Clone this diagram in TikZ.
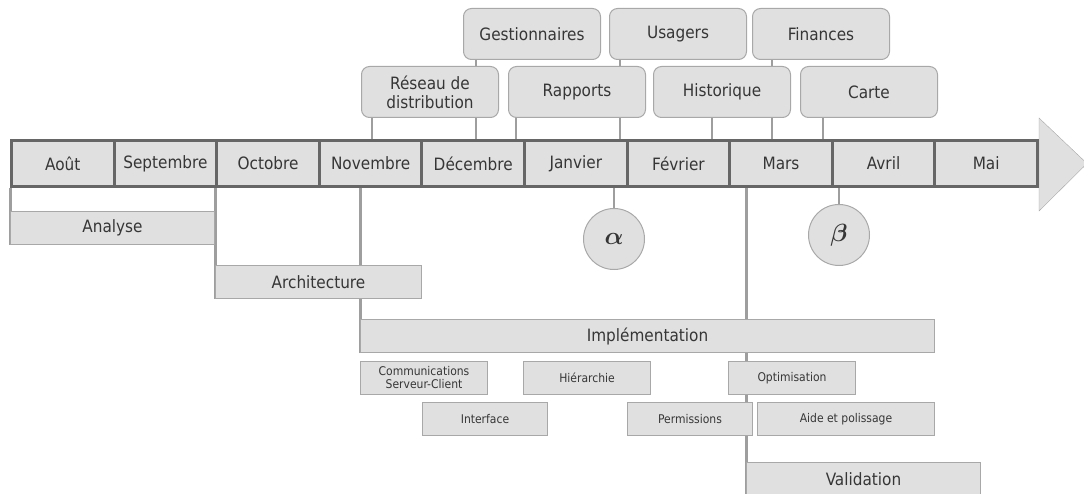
\documentclass[tikz,border=0pt]{standalone}
\usepackage{amsmath}
\usepackage{fontspec}
\setmainfont{DejaVu Sans Condensed}
\usetikzlibrary{backgrounds}
\definecolor{boxfill}{HTML}{E0E0E0}
\definecolor{boxline}{HTML}{A8A8A8}
\definecolor{monthline}{HTML}{666666}
\definecolor{linkline}{HTML}{9E9E9E}
\definecolor{txt}{HTML}{363636}
\begin{document}
\begin{tikzpicture}[x=1pt,y=-1pt,text=txt,
  month/.style={draw=monthline, line width=3pt, fill=boxfill, minimum width=102.6pt,
    minimum height=46pt, inner sep=0pt, anchor=north west, font=\fontsize{17}{19}\selectfont},
  topic/.style={draw=boxline, fill=boxfill, line width=1pt, rounded corners=8pt,
    minimum width=137pt, minimum height=51pt, inner sep=0pt, align=center,
    anchor=north west, font=\fontsize{17}{19}\selectfont},
  phase/.style={draw=boxline, fill=boxfill, line width=1pt, minimum height=33pt,
    inner sep=0pt, anchor=north west, font=\fontsize{17}{19}\selectfont},
  task/.style={phase, align=center, font=\fontsize{12}{13}\selectfont},
  link/.style={draw=linkline, line width=2pt},
  stage/.style={draw=linkline, line width=3pt},
  milestone/.style={circle, draw=boxline, fill=boxfill, line width=1pt,
    minimum size=61pt, inner sep=0pt, font=\fontsize{24}{24}\selectfont}]
\useasboundingbox (0,0) rectangle (1084,494);

% months
\foreach \m [count=\i] in {Août,Septembre,Octobre,Novembre,Décembre,Janvier,Février,Mars,Avril,Mai}
  \node[month] (m\i) at ({10+(\i-1)*102.6},139) {\m};

% topics above the line
\node[topic] (gestion) at (463,8) {Gestionnaires};
\node[topic] (usagers) at (609,8) {Usagers};
\node[topic] (finances) at (752,8) {Finances};
\node[topic] (reseau) at (361,66) {Réseau de\\distribution};
\node[topic] (rapports) at (508,66) {Rapports};
\node[topic] (historique) at (653,66) {Historique};
\node[topic] (carte) at (800,66) {Carte};

% milestones
\node[milestone] (alpha) at (614,239) {$\boldsymbol{\alpha}$};
\node[milestone] (beta) at (839,235) {$\boldsymbol{\beta}$};

% phases
\node[phase, minimum width=204pt] (analyse) at (10,211) {Analyse};
\node[phase, minimum width=206pt] (archi) at (215,265) {Architecture};
\node[phase, minimum width=574pt] (impl) at (360,319) {Implémentation};
\node[phase, minimum width=234pt] (valid) at (746,462) {Validation};

% tasks
\node[task, minimum width=127pt] (comm) at (360,361) {Communications\\Serveur-Client};
\node[task, minimum width=125pt] (interface) at (422,402) {Interface};
\node[task, minimum width=127pt] (hier) at (523,361) {Hiérarchie};
\node[task, minimum width=127pt] (optim) at (728,361) {Optimisation};
\node[task, minimum width=125pt] (perm) at (627,402) {Permissions};
\node[task, minimum width=177pt] (aide) at (757,402) {Aide et polissage};

\begin{scope}[on background layer]
% arrow head
\draw[draw=boxline, fill=boxfill] (m10.north east) ++(0,-21) -- ([xshift=48pt]m10.east)
  -- ([yshift=-23pt]m10.south east) -- cycle;
\foreach \b/\dx in {reseau/11,gestion/13,rapports/8,usagers/11,historique/59,finances/20,carte/23}
  \draw[link] (\b.south west) ++(\dx,0) coordinate (c) -- (c |- m1.north);
\draw[link] (alpha) -- (alpha |- m1.south);
\draw[link] (beta) -- (beta |- m1.south);
\foreach \p in {analyse,archi,impl,valid}
  \draw[stage] (\p.south west) -- (\p.south west |- m1.south);
\end{scope}
\end{tikzpicture}
\end{document}
